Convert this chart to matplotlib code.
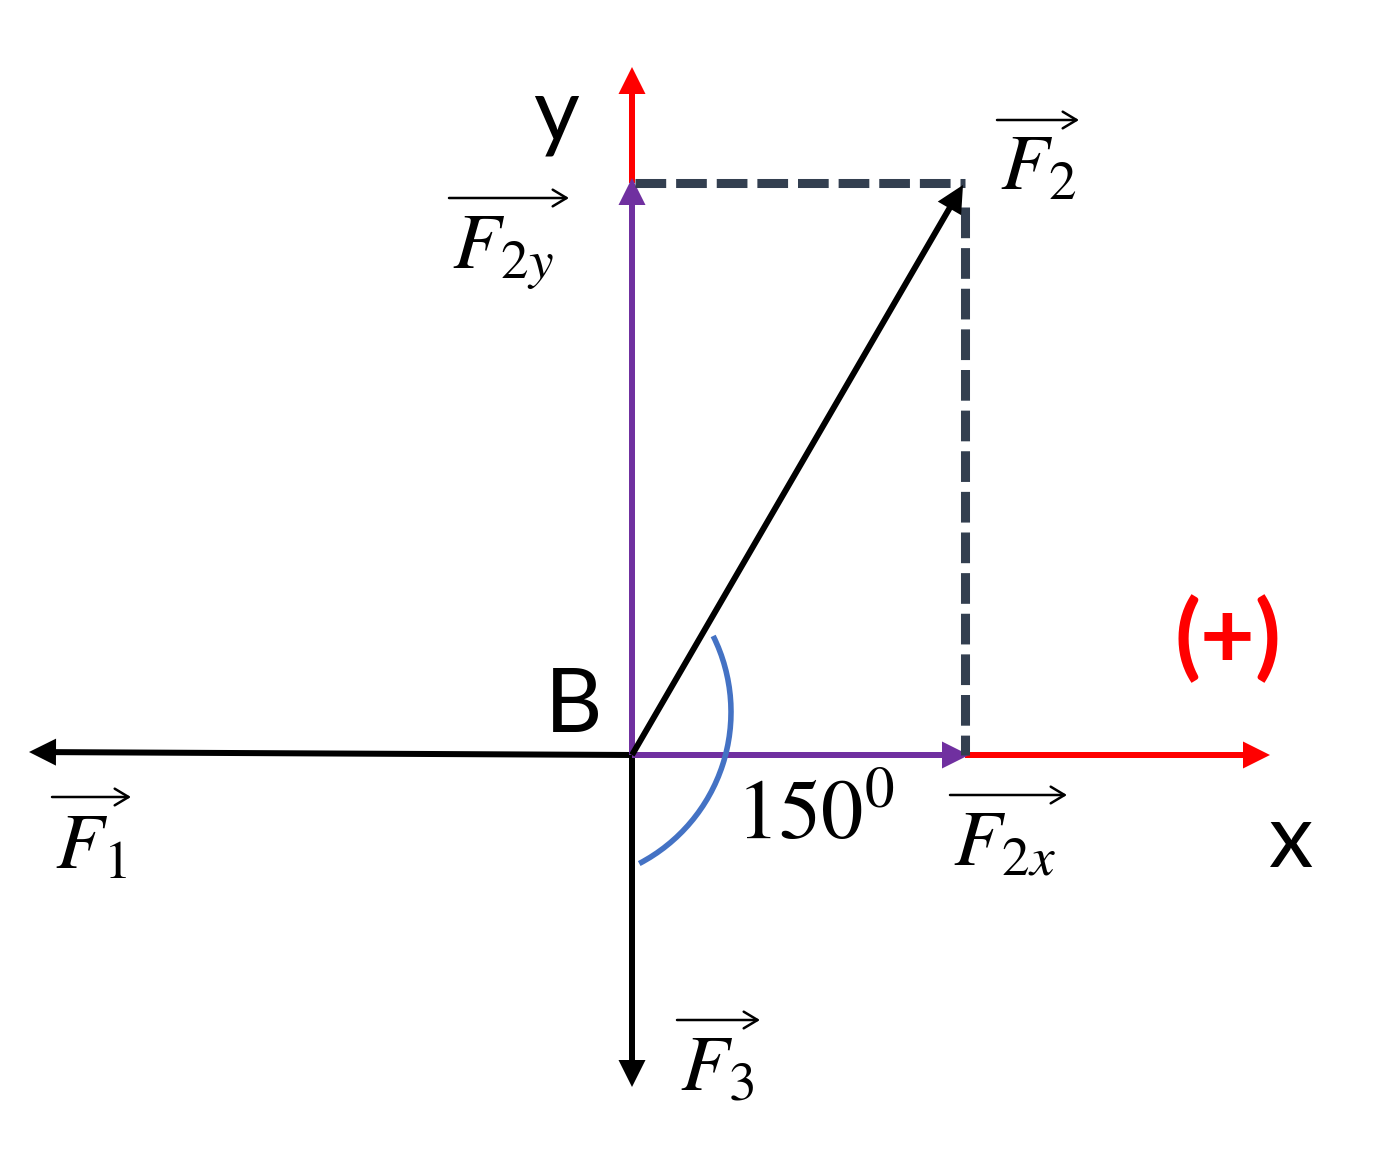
import matplotlib
matplotlib.use('Agg')
import matplotlib.pyplot as plt
from matplotlib.patches import Arc

plt.rcParams['mathtext.fontset'] = 'stix'
plt.rcParams['font.family'] = ['Lato', 'DejaVu Sans']

# vectors from point B (origin), in pixel-like units, y up
f1 = (-603, 3)
f3 = (0, -332)
f2 = (331, 570)
f2x = (337, 0)
f2y = (0, 577)
# red axis segments: start, end
x_axis = [(333, 0), (638, 0)]
y_axis = [(0, 572), (0, 688)]
# dashed projection lines
dash_h = [(3, 572), (333, 572)]
dash_v = [(333, 548), (333, 0)]
# angle arc: center, radius, start/end angle
arc_center = (-72, 43)
arc_r = 171
arc_angles = (-62.4, 26.4)
angle_text = r'$150^0$'

# vector labels: text, anchor (left, baseline), width of the arrow above
vec_labels = [r'$F_2$', r'$F_{2y}$', r'$F_{2x}$', r'$F_1$', r'$F_3$']
vec_label_pos = [(368, 565), (-180, 487), (321, -110), (-577, -112), (48, -335)]
vec_label_w = [82, 120, 117, 79, 83]

fig = plt.figure(figsize=(13.9, 11.53), dpi=100)
ax = fig.add_axes([0, 0, 1, 1])
ax.set_xlim(-632, 758)
ax.set_ylim(-398, 755)
ax.axis('off')

RED = '#FF0000'
PURPLE = '#7030A0'
DASH = '#333F50'
BLUE = '#4472C4'


def vec(start, end, color, z):
    ax.arrow(start[0], start[1], end[0] - start[0], end[1] - start[1],
             width=6, head_width=27, head_length=27,
             length_includes_head=True, lw=0, color=color, zorder=z)


vec((0, 0), f1, 'black', 2)
vec((0, 0), f3, 'black', 2)
vec(x_axis[0], x_axis[1], RED, 3)
vec(y_axis[0], y_axis[1], RED, 3)
vec((0, 0), f2x, PURPLE, 4)
vec((0, 0), f2y, PURPLE, 4)

for seg in (dash_h, dash_v):
    ax.plot([seg[0][0], seg[1][0]], [seg[0][1], seg[1][1]], color=DASH,
            lw=6.5, dashes=(3.4, 1.1), zorder=5)

vec((0, 0), f2, 'black', 6)

ax.add_patch(Arc(arc_center, 2 * arc_r, 2 * arc_r, theta1=arc_angles[0],
                 theta2=arc_angles[1], color=BLUE, lw=4, zorder=7))

# labels
ax.text(-76, 615, 'y', fontsize=64, ha='center', va='baseline')
ax.text(-58, 23, 'B', fontsize=64, ha='center', va='baseline')
ax.text(659, -112, 'x', fontsize=64, ha='center', va='baseline')
ax.text(596, 115, '(+)', fontsize=68, ha='center', va='center',
        color=RED, fontweight='bold')
ax.text(104, -83, angle_text, fontsize=61, ha='left', va='baseline')

for txt, (lx, ly), w in zip(vec_labels, vec_label_pos, vec_label_w):
    ax.text(lx, ly, txt, fontsize=57, ha='left', va='baseline')
    ax.annotate('', xy=(lx - 3 + w, ly + 70), xytext=(lx - 3, ly + 70),
                arrowprops=dict(arrowstyle='->,head_length=10,head_width=6',
                                mutation_scale=1, lw=1.8, color='black',
                                shrinkA=0, shrinkB=0))

fig.savefig('out.png', dpi=100)
